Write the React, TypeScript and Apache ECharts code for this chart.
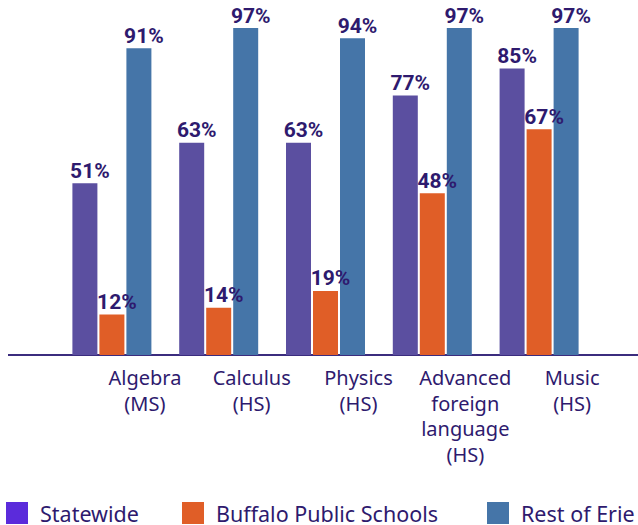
import React, { useEffect, useRef } from "react";
import * as echarts from "echarts";

const categories = ["Algebra\n(MS)", "Calculus\n(HS)", "Physics\n(HS)", "Advanced\nforeign\nlanguage\n(HS)", "Music\n(HS)"];
const seriesNames = ["Statewide", "Buffalo Public Schools", "Rest of Erie County"];
const statewide = [51, 63, 63, 77, 85];
const buffalo = [12, 14, 19, 48, 67];
const restOfErie = [91, 97, 94, 97, 97];

const barColors = ["#5B4FA0", "#E05E27", "#4575A8"];
const legendColors = ["#5B2BDB", "#E05E27", "#4575A8"];
const textColor = "#2E1A6E";

export default function App() {
  const ref = useRef<HTMLDivElement>(null);
  useEffect(() => {
    document.body.style.margin = "0";
    const chart = echarts.init(ref.current!, null, { renderer: "svg" });
    const values = [statewide, buffalo, restOfErie];
    const legendLefts = [6, 182];
    chart.setOption({
      animation: false,
      grid: { left: 58.5, right: 45.5, top: 18, bottom: 170 },
      xAxis: {
        type: "category",
        data: categories,
        axisLine: { show: false },
        axisTick: { show: false },
        axisLabel: {
          color: textColor,
          fontFamily: "Noto Sans",
          fontSize: 20,
          lineHeight: 25.5,
          margin: 10,
          interval: 0,
          padding: [0, 0, 0, 66],
        },
      },
      yAxis: { type: "value", min: 0, max: 100, show: false, splitLine: { show: false } },
      legend: legendLefts.map((l, i) => ({
        data: [{ name: seriesNames[i], itemStyle: { color: legendColors[i] } }],
        left: l,
        top: 502,
        padding: 0,
        itemWidth: 22,
        itemHeight: 22,
        itemGap: 10,
        icon: "rect",
        textStyle: {
          color: textColor,
          fontFamily: "Noto Sans",
          fontSize: 21.5,
          padding: [0, 0, 0, 7],
        },
      })),
      series: seriesNames.map((n, i) => ({
        name: n,
        type: "bar",
        data: values[i],
        barWidth: 25,
        barGap: "8%",
        itemStyle: { color: barColors[i] },
        label: {
          show: true,
          position: "top",
          distance: 2,
          offset: [5, 0],
          formatter: "{c}%",
          color: textColor,
          fontFamily: "'Liberation Sans Narrow', Roboto, sans-serif",
          fontWeight: "bold",
          fontSize: 21,
        },
      })),
      graphic: [
        {
          type: "line",
          shape: { x1: 8, y1: 355, x2: 638, y2: 355 },
          style: { stroke: "#3B2C7E", lineWidth: 2 },
          z: 0,
        },
        {
          type: "rect",
          shape: { x: 487, y: 502, width: 22, height: 22 },
          style: { fill: legendColors[2] },
        },
        {
          type: "text",
          x: 521,
          y: 513,
          style: {
            text: seriesNames[2],
            fill: textColor,
            font: "21.5px 'Noto Sans'",
            textVerticalAlign: "middle",
            verticalAlign: "middle",
          },
        },
      ],
    });
    return () => chart.dispose();
  }, []);
  return <div ref={ref} style={{ width: 638, height: 525 }} />;
}
